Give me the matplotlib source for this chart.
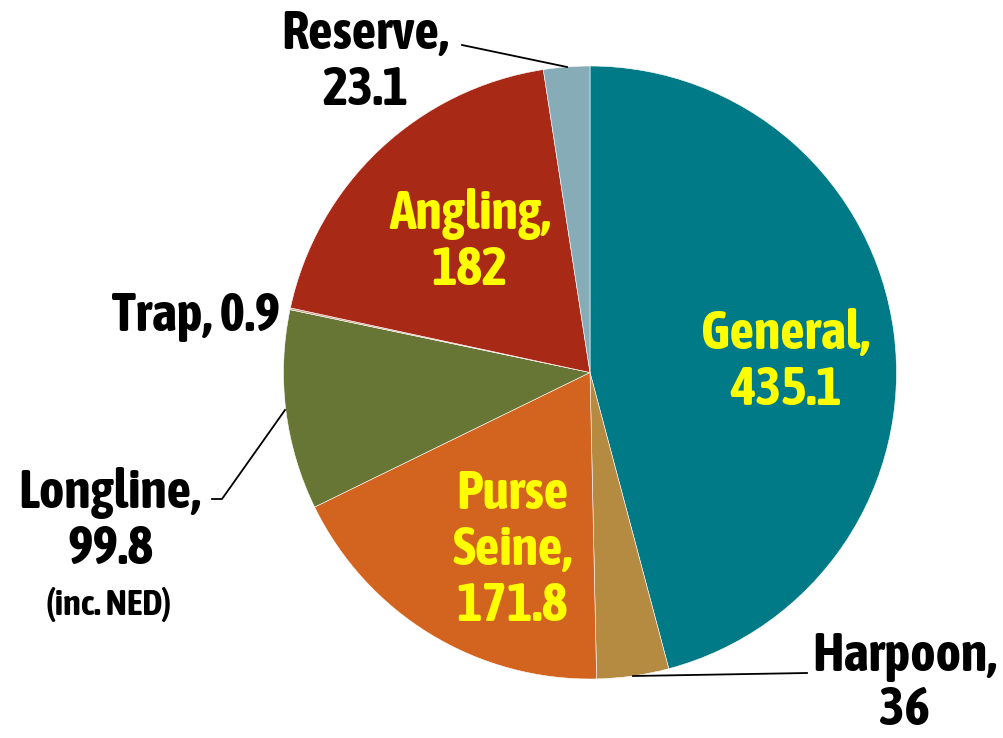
import matplotlib
matplotlib.use("Agg")
import matplotlib.pyplot as plt
from matplotlib import font_manager

# gear type allocations (clockwise from 12 o'clock)
gears = ["General", "Harpoon", "Purse Seine", "Longline", "Trap", "Angling", "Reserve"]
values = [435.1, 36, 171.8, 99.8, 0.9, 182, 23.1]
colors = ["#007A87", "#B58B42", "#D2641F", "#677634", "#C9A28A", "#A82A16", "#86ADB7"]

W, H = 1004, 738


def is_bold(w):
    return w in ("bold", "heavy", "black", "extra bold") or (isinstance(w, int) and w >= 700)


# look for a narrow bold face, otherwise plain Liberation Sans a bit smaller
bold_narrow = sorted({f.name for f in font_manager.fontManager.ttflist
                      if ("Narrow" in f.name or "Condensed" in f.name) and is_bold(f.weight)})
if bold_narrow:
    FONT, SCALE = [bold_narrow[0], "DejaVu Sans"], 1.0
else:
    FONT, SCALE = ["Liberation Sans", "DejaVu Sans"], 0.86

fig = plt.figure(figsize=(W / 100, H / 100), dpi=100)
ax = fig.add_axes([0, 0, 1, 1])


def py(y):
    # pixel row -> data y
    return H - y


ax.pie(values, colors=colors, startangle=90, counterclock=False,
       center=(590, py(372.5)), radius=306.5, frame=True,
       wedgeprops=dict(edgecolor="white", linewidth=0.4))
ax.set_xlim(0, W)
ax.set_ylim(0, H)
ax.set_aspect("equal")
ax.axis("off")


def label(x, y, s, color="black", size=39, ha="center", ls=1.1):
    ax.text(x, py(y), s, color=color, fontsize=size * SCALE, fontweight="bold",
            family=FONT, ha=ha, va="center", linespacing=ls)


label(786, 362, f"{gears[0]},\n{values[0]:g}", color="#FFFF00")
label(905, 683, f"{gears[1]},\n{values[1]:g}", ls=1.05)
label(512, 550, "Purse\nSeine,\n" + f"{values[2]:g}", color="#FFFF00")
label(110, 521, f"{gears[3]},\n{values[3]:g}")
label(109, 604, "(inc. NED)", size=26)
label(280, 316, f"{gears[4]}, {values[4]:g}", ha="right")
label(470, 242, f"{gears[5]},\n{values[5]:g}", color="#FFFF00")
label(365, 62, f"{gears[6]},\n{values[6]:g}")

# leader lines
ax.plot([462, 567], [py(45), py(67)], color="black", lw=1.3)
ax.plot([212, 222, 285], [py(499), py(499), py(410)], color="black", lw=1.3)
ax.plot([633, 807], [py(676), py(673)], color="black", lw=1.3)

fig.savefig("out.png", dpi=100)
